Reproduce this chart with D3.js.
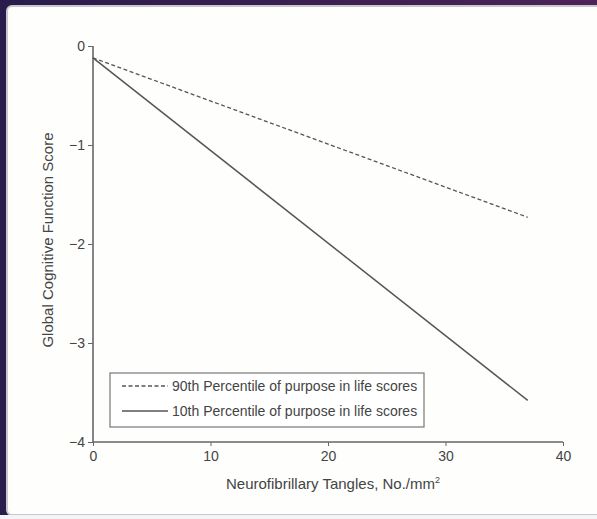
<!DOCTYPE html>
<html><head><meta charset="utf-8">
<script src="https://cdn.jsdelivr.net/npm/d3@7"></script>
<style>
html,body{margin:0;padding:0;background:#fff;}
svg{display:block;}
text{font-family:"Liberation Sans Narrow","Liberation Sans",Arial,sans-serif;fill:#444;}
</style></head><body>
<svg id="c" width="597" height="519"></svg>
<script>
const xTicks = [0, 10, 20, 30, 40];
const yTicks = [0, -1, -2, -3, -4];
const seriesNames = ["90th Percentile of purpose in life scores", "10th Percentile of purpose in life scores"];
const seriesX = [0, 37];
const series90 = [-0.12, -1.73];
const series10 = [-0.12, -3.58];
const xTitle = "Neurofibrillary Tangles, No./mm";
const yTitle = "Global Cognitive Function Score";

const svg = d3.select("#c");
const defs = svg.append("defs");
const g = defs.append("linearGradient").attr("id","fr").attr("x1","0").attr("x2","1");
g.append("stop").attr("offset","0").attr("stop-color","#281c4c");
g.append("stop").attr("offset","1").attr("stop-color","#4d2358");
svg.append("rect").attr("x",0).attr("y",0).attr("width",597).attr("height",519).attr("fill","url(#fr)");
svg.append("rect").attr("x",7).attr("y",6).attr("width",597).attr("height",509).attr("rx",5)
  .attr("fill","#fdfdfb").attr("stroke","#c8c8cc").attr("stroke-width",2);
svg.append("rect").attr("x",12).attr("y",8).attr("width",590).attr("height",506).attr("fill","#fefefd");
svg.append("rect").attr("x",0).attr("y",515).attr("width",597).attr("height",4).attr("fill","#f4f4f6");

const x = d3.scaleLinear().domain([0,40]).range([93,563]);
const y = d3.scaleLinear().domain([-4,0]).range([442,46]);
const axisColor = "#666";
const font = "'Liberation Sans Narrow','Liberation Sans',Arial,sans-serif";

const xa = svg.append("g").attr("transform","translate(0,442)")
  .call(d3.axisBottom(x).tickValues(xTicks).tickSize(4).tickPadding(5).tickFormat(d3.format("d")));
const ya = svg.append("g").attr("transform","translate(93,0)")
  .call(d3.axisLeft(y).tickValues(yTicks).tickSize(5).tickPadding(3).tickFormat(d=> d<0 ? "\u2212"+(-d) : d));
[xa,ya].forEach(a=>{
  a.select(".domain").attr("stroke",axisColor).attr("stroke-width",1.6);
  a.selectAll(".tick line").attr("stroke",axisColor).attr("stroke-width",1);
  a.selectAll(".tick text").attr("fill","#444").style("font-size","14px").style("font-family",font);
});
ya.select(".domain").attr("d","M0," + y(0) + "V" + y(-4));
xa.select(".domain").attr("d","M" + x(0) + ",0H" + x(40));

const line = d3.line().x((d,i)=>x(seriesX[i])).y(d=>y(d));
svg.append("path").datum(series90).attr("d",line).attr("fill","none")
  .attr("stroke","#555").attr("stroke-width",1.3).attr("stroke-dasharray","4,2.5");
svg.append("path").datum(series10).attr("d",line).attr("fill","none")
  .attr("stroke","#555").attr("stroke-width",1.5);

const tx = svg.append("text").attr("x",333).attr("y",489).attr("text-anchor","middle")
  .style("font-size","15px").text(xTitle);
tx.append("tspan").attr("dy",-6).style("font-size","9px").text("2");
svg.append("text").attr("transform","translate(53,240) rotate(-90)").attr("text-anchor","middle")
  .style("font-size","15px").text(yTitle);

const lg = svg.append("g");
lg.append("rect").attr("x",110).attr("y",373).attr("width",314).attr("height",54)
  .attr("fill","#fff").attr("stroke","#777").attr("stroke-width",1.2);
const styles = ["4,2.5", null];
seriesNames.forEach((n,i)=>{
  const yy = 386 + i*25;
  lg.append("line").attr("x1",122).attr("x2",168).attr("y1",yy).attr("y2",yy)
    .attr("stroke","#555").attr("stroke-width",1.3).attr("stroke-dasharray",styles[i]);
  lg.append("text").attr("x",172).attr("y",yy+5).style("font-size","14px").text(n);
});
</script></body></html>
